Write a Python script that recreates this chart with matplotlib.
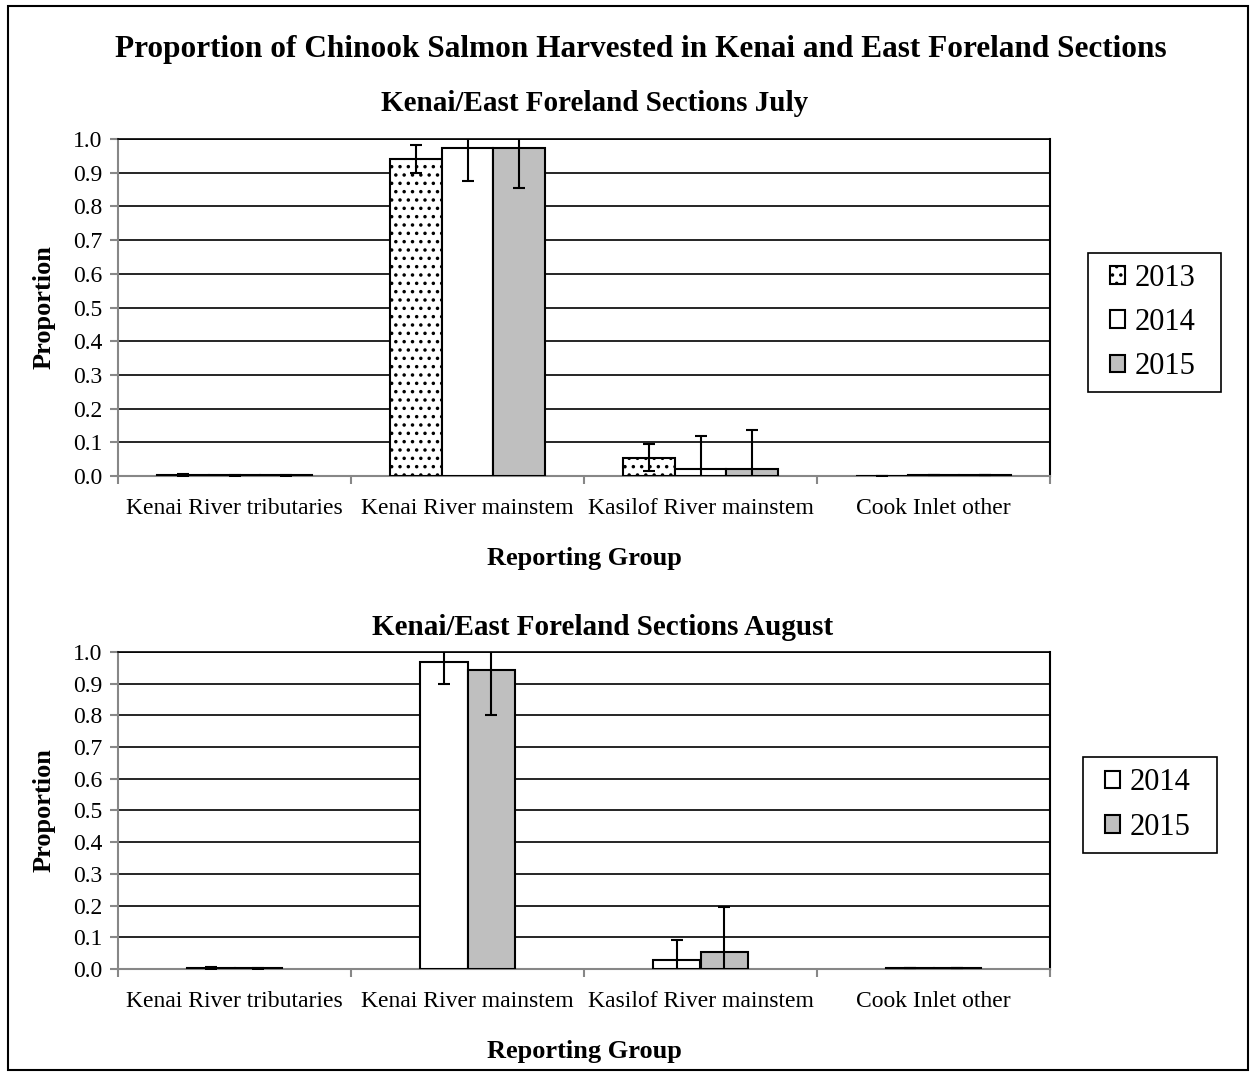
import matplotlib
matplotlib.use("Agg")
import matplotlib.pyplot as plt
import numpy as np
from matplotlib.patches import Rectangle

plt.rcParams['font.family'] = ['Liberation Serif', 'DejaVu Serif']
plt.rcParams['hatch.linewidth'] = 1.3

groups = ["Kenai River tributaries", "Kenai River mainstem",
          "Kasilof River mainstem", "Cook Inlet other"]

# July (top panel)
jul_years = ["2013", "2014", "2015"]
jul_vals = [[0.003, 0.940, 0.054, 0.001],
            [0.002, 0.974, 0.020, 0.002],
            [0.002, 0.973, 0.020, 0.002]]
jul_err = [[0.004, 0.041, 0.040, 0.000],
           [0.001, 0.100, 0.100, 0.000],
           [0.001, 0.117, 0.117, 0.000]]

# August (bottom panel)
aug_years = ["2014", "2015"]
aug_vals = [[0.003, 0.970, 0.027, 0.002],
            [0.002, 0.944, 0.055, 0.002]]
aug_err = [[0.002, 0.071, 0.065, 0.000],
           [0.001, 0.144, 0.142, 0.000]]

styles = {"2013": dict(color="white", hatch=".."),
          "2014": dict(color="white", hatch=None),
          "2015": dict(color="#bfbfbf", hatch=None)}

axis_gray = "#878787"
W, H = 1250, 1072

fig = plt.figure(figsize=(12.5, 10.72), dpi=100)
fig.patches.append(Rectangle((0.0064, 0.0019), 0.9920, 0.9925, transform=fig.transFigure,
                             fill=False, edgecolor="black", linewidth=1.5))

fig.text(0.513, 0.954, "Proportion of Chinook Salmon Harvested in Kenai and East Foreland Sections",
         ha="center", va="center", fontsize=22.5, weight="bold")


def legend_frame(x0, y0, x1, y1):
    # legend border in pixel coords (top-left origin)
    fig.patches.append(Rectangle((x0 / W, 1 - y1 / H), (x1 - x0) / W, (y1 - y0) / H,
                                 transform=fig.transFigure, fill=False,
                                 edgecolor="black", linewidth=1.2))


def panel(rect, years, vals, errs, width, title, title_xy, leg_frame):
    ax = fig.add_axes(rect)
    x = np.arange(len(groups))
    n = len(years)
    handles = []
    for i, yr in enumerate(years):
        off = (i - (n - 1) / 2) * width
        st = styles[yr]
        b = ax.bar(x + off, vals[i], width, facecolor=st["color"], edgecolor="black",
                   hatch=st["hatch"], linewidth=1.5, zorder=3, label=yr)
        ax.errorbar(x + off, vals[i], yerr=errs[i], fmt="none", ecolor="black",
                    elinewidth=1.5, capsize=4.5, capthick=1.5, zorder=4)
        handles.append(b)
    ax.set_xlim(-0.5, 3.5)
    ax.set_ylim(0, 1.0)
    ax.set_yticks(np.arange(0, 1.01, 0.1))
    ax.set_yticklabels([f"{v:.1f}" for v in np.arange(0, 1.01, 0.1)])
    ax.set_xticks(x)
    ax.set_xticklabels(groups)
    ax.set_xticks([-0.5, 0.5, 1.5, 2.5, 3.5], minor=True)
    ax.tick_params(axis="x", which="major", length=0, labelsize=17, pad=16)
    ax.tick_params(axis="x", which="minor", length=6, color=axis_gray, width=1.5)
    ax.tick_params(axis="y", length=6, color=axis_gray, width=1.5, labelsize=17, pad=5)
    ax.yaxis.grid(True, color="black", linewidth=1.2, zorder=0)
    ax.set_axisbelow(True)
    ax.spines["left"].set_color(axis_gray)
    ax.spines["bottom"].set_color(axis_gray)
    ax.spines["left"].set_linewidth(1.5)
    ax.spines["bottom"].set_linewidth(1.5)
    ax.spines["top"].set_color("black")
    ax.spines["right"].set_color("black")
    ax.spines["right"].set_linewidth(1.5)
    ax.spines["top"].set_linewidth(1.2)
    ax.set_ylabel("Proportion", fontsize=19, weight="bold", labelpad=13)
    ax.set_xlabel("Reporting Group", fontsize=19, weight="bold", labelpad=20)
    fig.text(title_xy[0], title_xy[1], title, ha="center", va="center",
             fontsize=21, weight="bold")

    x0, y0, x1, y1 = leg_frame
    legend_frame(x0, y0, x1, y1)
    ax.legend(handles=handles, loc="center left",
              bbox_to_anchor=((x0 + 22) / W, 1 - (y0 + y1) / 2 / H),
              bbox_transform=fig.transFigure, fontsize=22, frameon=False,
              handlelength=0.5, handleheight=0.5, handletextpad=0.3,
              borderpad=0, borderaxespad=0, labelspacing=0.5)
    return ax


panel([0.0944, 0.5560, 0.7456, 0.3143], jul_years, jul_vals, jul_err, 0.223,
      "Kenai/East Foreland Sections July", (0.476, 0.903), (1088, 253, 1221, 392))
panel([0.0944, 0.0961, 0.7456, 0.2957], aug_years, aug_vals, aug_err, 0.205,
      "Kenai/East Foreland Sections August", (0.482, 0.415), (1083, 757, 1217, 853))

fig.savefig("out.png", dpi=100)
